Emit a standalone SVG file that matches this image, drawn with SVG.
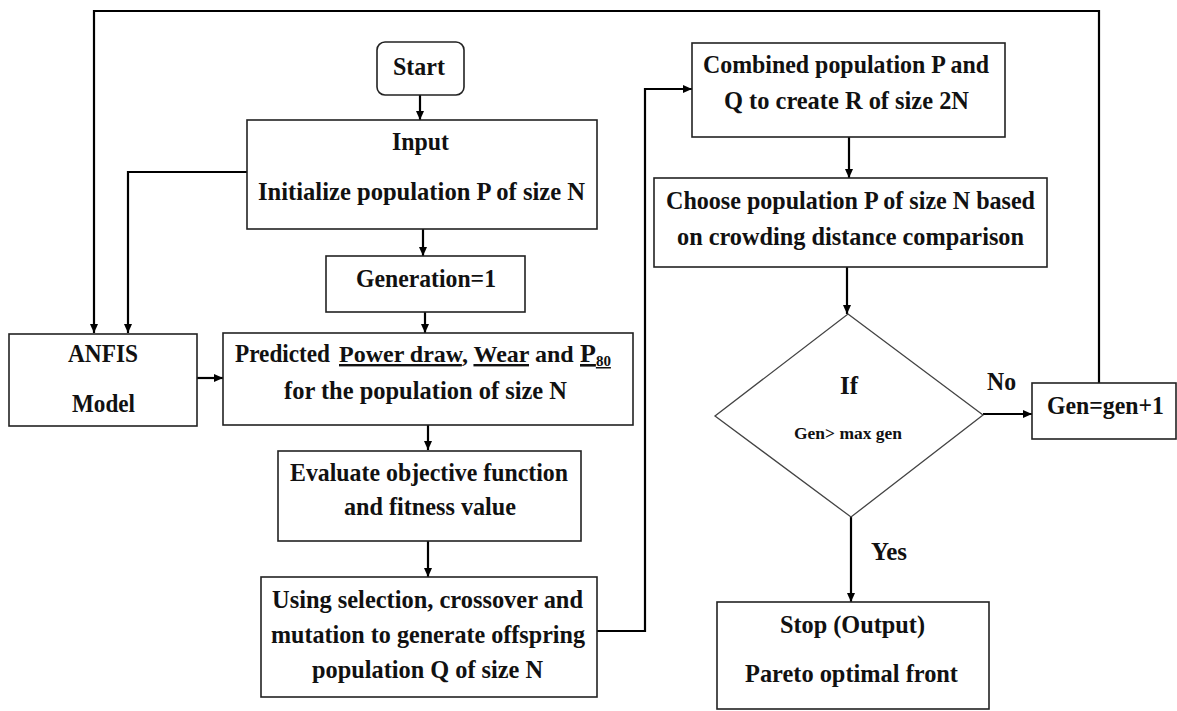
<svg xmlns="http://www.w3.org/2000/svg" width="1177" height="711" viewBox="0 0 1177 711">
<style>
.box{fill:#fff;stroke:#222;stroke-width:1.6}
.dia{fill:#fff;stroke:#444;stroke-width:1.3}
.conn{fill:none;stroke:#000;stroke-width:2.2}
.t{font-family:"Liberation Serif","Times New Roman",serif;font-weight:bold;font-size:26px;fill:#111}
.s{font-size:17px}
.u{text-decoration:underline}
</style>
<defs>
<marker id="ah" markerUnits="userSpaceOnUse" markerWidth="9" markerHeight="8" refX="9" refY="4" orient="auto">
<path d="M0,0 L9,4 L0,8 z" fill="#000"/>
</marker>
</defs>
<rect width="1177" height="711" fill="#fff"/>
<g id="connectors">
<path class="conn" d="M420,95 V120" marker-end="url(#ah)"/>
<path class="conn" d="M423,229 V256" marker-end="url(#ah)"/>
<path class="conn" d="M425,312 V333" marker-end="url(#ah)"/>
<path class="conn" d="M428,425 V450" marker-end="url(#ah)"/>
<path class="conn" d="M428,541 V577" marker-end="url(#ah)"/>
<path class="conn" d="M197,378 H223" marker-end="url(#ah)"/>
<path class="conn" d="M247,172 H128 V333" marker-end="url(#ah)"/>
<path class="conn" d="M1099,383 V11 H94 V333" marker-end="url(#ah)"/>
<path class="conn" d="M597,631 H645 V89 H692" marker-end="url(#ah)"/>
<path class="conn" d="M849,137 V178" marker-end="url(#ah)"/>
<path class="conn" d="M847,267 V314" marker-end="url(#ah)"/>
<path class="conn" d="M983,414 H1032" marker-end="url(#ah)"/>
<path class="conn" d="M851,517 V602" marker-end="url(#ah)"/>
<text class="t" x="987" y="390" textLength="29" lengthAdjust="spacingAndGlyphs">No</text>
<text class="t" x="871" y="560" textLength="36" lengthAdjust="spacingAndGlyphs">Yes</text>
</g>
<g id="start">
<rect class="box" x="377" y="42" width="87" height="53" rx="8"/>
<text class="t" x="393" y="75" textLength="52" lengthAdjust="spacingAndGlyphs">Start</text>
</g>
<g id="input">
<rect class="box" x="247" y="120" width="350" height="109"/>
<text class="t" x="392" y="150" textLength="57" lengthAdjust="spacingAndGlyphs">Input</text>
<text class="t" x="258" y="200" textLength="327" lengthAdjust="spacingAndGlyphs">Initialize population P of size N</text>
</g>
<g id="generation">
<rect class="box" x="326" y="256" width="199" height="56"/>
<text class="t" x="356" y="287" textLength="140" lengthAdjust="spacingAndGlyphs">Generation=1</text>
</g>
<g id="anfis">
<rect class="box" x="9" y="334" width="188" height="92"/>
<text class="t" x="68" y="362" textLength="70" lengthAdjust="spacingAndGlyphs">ANFIS</text>
<text class="t" x="72" y="412" textLength="63" lengthAdjust="spacingAndGlyphs">Model</text>
</g>
<g id="predicted">
<rect class="box" x="223" y="333" width="410" height="92"/>
<text class="t" x="235" y="362" textLength="95" lengthAdjust="spacingAndGlyphs">Predicted</text>
<text class="t" x="339" y="362" style="font-size:24px"><tspan class="u">Power draw</tspan>, <tspan class="u">Wear</tspan> and</text>
<text class="t u" x="580" y="362">P<tspan style="font-size:15px" dy="4">80</tspan></text>
<text class="t" x="284" y="399" textLength="283" lengthAdjust="spacingAndGlyphs">for the population of size N</text>
</g>
<g id="evaluate">
<rect class="box" x="278" y="451" width="303" height="90"/>
<text class="t" x="290" y="481" textLength="278" lengthAdjust="spacingAndGlyphs">Evaluate objective function</text>
<text class="t" x="344" y="515" textLength="172" lengthAdjust="spacingAndGlyphs">and fitness value</text>
</g>
<g id="offspring">
<rect class="box" x="261" y="577" width="336" height="120"/>
<text class="t" x="272" y="608" textLength="311" lengthAdjust="spacingAndGlyphs">Using selection, crossover and</text>
<text class="t" x="271" y="643" textLength="314" lengthAdjust="spacingAndGlyphs">mutation to generate offspring</text>
<text class="t" x="312" y="678" textLength="231" lengthAdjust="spacingAndGlyphs">population Q of size N</text>
</g>
<g id="combined">
<rect class="box" x="692" y="43" width="313" height="94"/>
<text class="t" x="703" y="73" textLength="286" lengthAdjust="spacingAndGlyphs">Combined population P and</text>
<text class="t" x="724" y="109" textLength="245" lengthAdjust="spacingAndGlyphs">Q to create R of size 2N</text>
</g>
<g id="choose">
<rect class="box" x="654" y="178" width="393" height="89"/>
<text class="t" x="666" y="209" textLength="369" lengthAdjust="spacingAndGlyphs">Choose population P of size N based</text>
<text class="t" x="677" y="245" textLength="347" lengthAdjust="spacingAndGlyphs">on crowding distance comparison</text>
</g>
<g id="decision">
<polygon class="dia" points="848,314 983,415 851,517 715,416"/>
<text class="t" x="840" y="394" textLength="18" lengthAdjust="spacingAndGlyphs">If</text>
<text class="t s" x="794" y="439" textLength="108" lengthAdjust="spacingAndGlyphs">Gen&gt; max gen</text>
</g>
<g id="increment">
<rect class="box" x="1032" y="383" width="144" height="56"/>
<text class="t" x="1047" y="414" textLength="117" lengthAdjust="spacingAndGlyphs">Gen=gen+1</text>
</g>
<g id="stop">
<rect class="box" x="717" y="602" width="272" height="107"/>
<text class="t" x="780" y="633" textLength="145" lengthAdjust="spacingAndGlyphs">Stop (Output)</text>
<text class="t" x="745" y="682" textLength="213" lengthAdjust="spacingAndGlyphs">Pareto optimal front</text>
</g>
</svg>
